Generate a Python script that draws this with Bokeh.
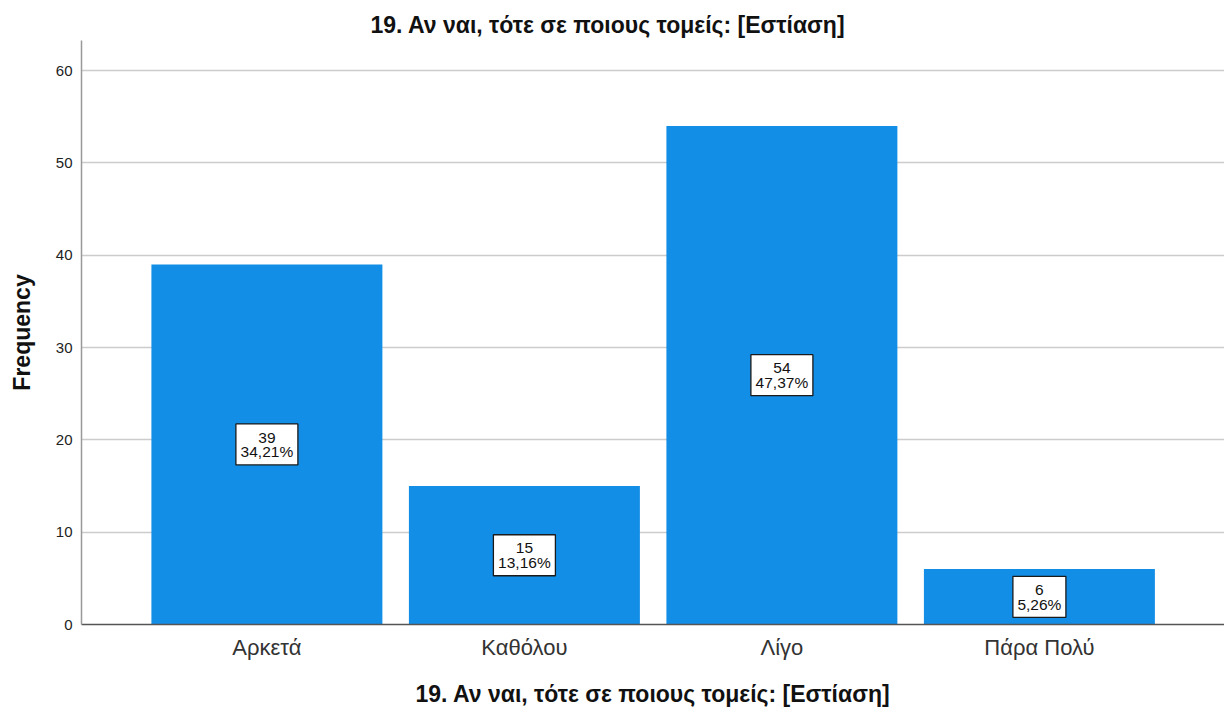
from bokeh.plotting import figure
from bokeh.models import Range1d, FixedTicker, ColumnDataSource, Title
from bokeh.core.properties import value
from bokeh.embed import file_html
from bokeh.resources import INLINE

categories = ["Αρκετά", "Καθόλου", "Λίγο", "Πάρα Πολύ"]
counts = [39, 15, 54, 6]
percents = ["34,21%", "13,16%", "47,37%", "5,26%"]
y_ticks = [0, 10, 20, 30, 40, 50, 60]
title_text = "19. Αν ναι, τότε σε ποιους τομείς: [Εστίαση]"
y_label = "Frequency"

FONT = "Liberation Sans"
BAR = "#128ee6"

xs = list(range(len(categories)))
src = ColumnDataSource(dict(
    x=xs,
    top=counts,
    mid=[c / 2 for c in counts],
    lab=[f"{c}\n{pc}" for c, pc in zip(counts, percents)],
    bw=[9 * len(pc) + 8 for pc in percents],
))

p = figure(width=1224, height=710, output_backend="svg", toolbar_location=None,
           x_range=Range1d(-0.72, -0.72 + 1143 / 257.5), y_range=Range1d(0, 63.25),
           min_border_left=81, min_border_right=0, min_border_top=40, min_border_bottom=86)
p.outline_line_color = None
p.background_fill_color = "white"

t = Title(text=title_text, align="left", offset=289, text_font=FONT,
          text_font_size="23px", text_font_style="bold", text_color="#111111", standoff=6)
p.title = t

p.vbar(x="x", top="top", width=0.897, bottom=0, source=src, fill_color=BAR, line_color=None)
p.rect(x="x", y="mid", width="bw", height=41, width_units="screen", height_units="screen",
       source=src, fill_color="white", line_color="#1a1a1a", line_width=1.3)
p.text(x="x", y="mid", text="lab", source=src, text_align="center", text_baseline="middle",
       text_font=value(FONT), text_font_size="15.5px", text_color="#111111", text_line_height=0.86)

p.xgrid.grid_line_color = None
p.ygrid.grid_line_color = "#cccccc"
p.ygrid.grid_line_width = 1.5
p.yaxis.ticker = FixedTicker(ticks=y_ticks)
p.xaxis.ticker = FixedTicker(ticks=xs)
p.xaxis.major_label_overrides = {i: c for i, c in enumerate(categories)}

for ax in (p.xaxis[0], p.yaxis[0]):
    ax.major_tick_line_color = None
    ax.minor_tick_line_color = None
    ax.major_tick_out = 0
    ax.major_tick_in = 0
    ax.axis_label_text_font = FONT
    ax.axis_label_text_font_style = "bold"
    ax.axis_label_text_font_size = "23px"
    ax.axis_label_text_color = "#111111"
    ax.major_label_text_font = FONT

p.yaxis.axis_label = y_label
p.yaxis.axis_line_color = "#999999"
p.yaxis.axis_line_width = 1.5
p.yaxis.major_label_text_font_size = "15px"
p.yaxis.major_label_text_color = "#222222"
p.yaxis.major_label_standoff = 9
p.yaxis.axis_label_standoff = 18

p.xaxis.axis_label = title_text
p.xaxis.axis_line_color = "#555555"
p.xaxis.axis_line_width = 1.5
p.xaxis.major_label_text_font_size = "22px"
p.xaxis.major_label_text_color = "#333333"
p.xaxis.major_label_standoff = 10
p.xaxis.axis_label_standoff = 18

open("out.html", "w").write(file_html(p, INLINE))
